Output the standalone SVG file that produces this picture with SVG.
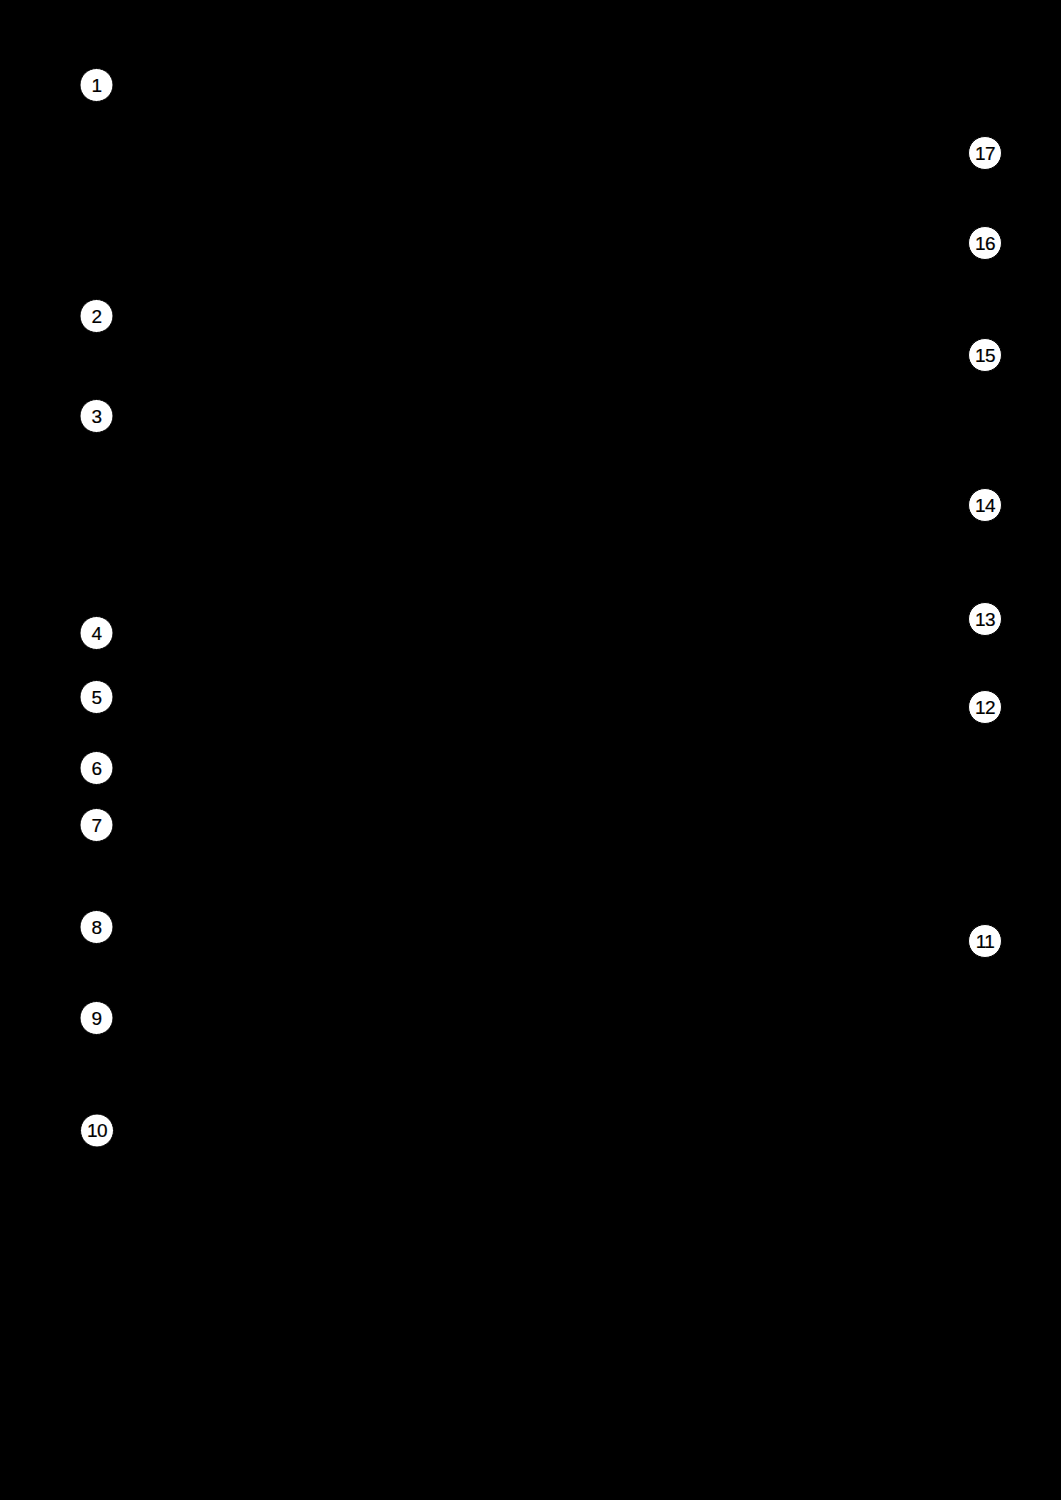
<svg xmlns="http://www.w3.org/2000/svg" width="1061" height="1500" viewBox="0 0 1061 1500">
<style>
.b circle{fill:#fff;stroke:#000;stroke-width:1}
.b text{font-family:"Liberation Sans",Arial,sans-serif;font-size:19px;fill:#000;stroke:#000;stroke-width:0.2;letter-spacing:-0.6px;text-anchor:middle;dominant-baseline:central}
</style>
<rect width="1061" height="1500" fill="#000"/>
<g id="connectors"></g>
<g class="b">
<g id="n1"><circle cx="96.5" cy="85" r="16.5"/><text x="96.5" y="85">1</text></g>
<g id="n2"><circle cx="96.5" cy="316" r="16.5"/><text x="96.5" y="316">2</text></g>
<g id="n3"><circle cx="96.5" cy="416" r="16.5"/><text x="96.5" y="416">3</text></g>
<g id="n4"><circle cx="96.5" cy="633" r="16.5"/><text x="96.5" y="633">4</text></g>
<g id="n5"><circle cx="96.5" cy="697" r="16.5"/><text x="96.5" y="697">5</text></g>
<g id="n6"><circle cx="96.5" cy="768" r="16.5"/><text x="96.5" y="768">6</text></g>
<g id="n7"><circle cx="96.5" cy="825" r="16.5"/><text x="96.5" y="825">7</text></g>
<g id="n8"><circle cx="96.5" cy="927" r="16.5"/><text x="96.5" y="927">8</text></g>
<g id="n9"><circle cx="96.5" cy="1018" r="16.5"/><text x="96.5" y="1018">9</text></g>
<g id="n10"><circle cx="97" cy="1130.5" r="16.5"/><text x="97" y="1130.5">10</text></g>
<g id="n11"><circle cx="985" cy="941" r="16.5"/><text x="985" y="941">11</text></g>
<g id="n12"><circle cx="985" cy="707" r="16.5"/><text x="985" y="707">12</text></g>
<g id="n13"><circle cx="985" cy="619" r="16.5"/><text x="985" y="619">13</text></g>
<g id="n14"><circle cx="985" cy="505" r="16.5"/><text x="985" y="505">14</text></g>
<g id="n15"><circle cx="985" cy="355" r="16.5"/><text x="985" y="355">15</text></g>
<g id="n16"><circle cx="985" cy="243" r="16.5"/><text x="985" y="243">16</text></g>
<g id="n17"><circle cx="985" cy="153" r="16.5"/><text x="985" y="153">17</text></g>
</g>
</svg>
